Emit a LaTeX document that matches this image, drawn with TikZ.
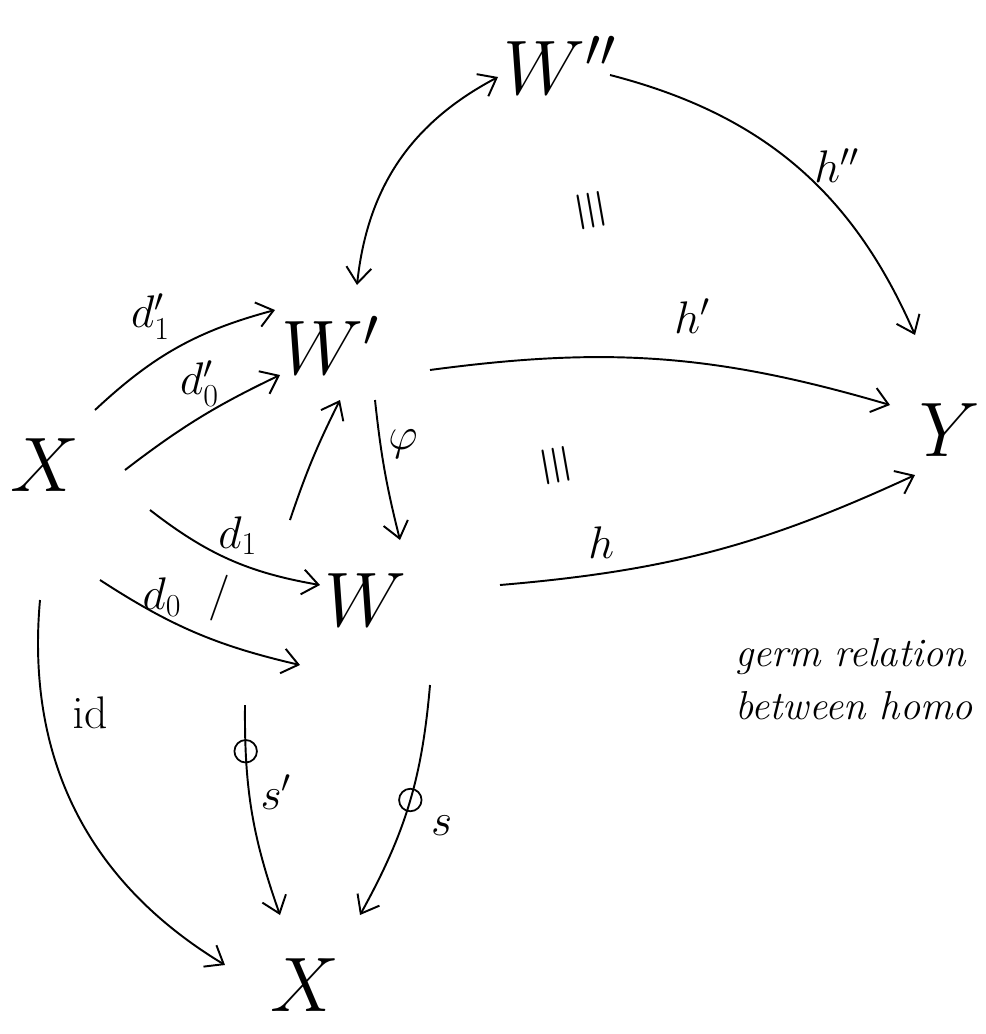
\RequirePackage{fix-cm}
\documentclass[tikz,border=0pt]{standalone}
\usepackage{amsmath}
\usepackage{tikz}
\usetikzlibrary{calc,arrows.meta}
\tikzset{
    obj/.style={font=\fontsize{44}{48}\selectfont, inner sep=2pt},
    mapto/.style={-{Straight Barb[length=3.2mm, width=5mm]}, line width=1.1pt},
    mapboth/.style={{Straight Barb[length=3.2mm, width=5mm]}-{Straight Barb[length=3.2mm, width=5mm]}, line width=1.1pt},
    lbl/.style={font=\fontsize{26}{30}\selectfont, inner sep=2pt},
    circ/.style={draw, circle, line width=1pt, inner sep=0pt, minimum size=4.5mm},
    equivsign/.style={font=\fontsize{30}{32}\selectfont, rotate=100},
    note/.style={font=\fontsize{23}{30}\selectfont\itshape, align=left, inner sep=0pt},
}

\begin{document}
\begin{tikzpicture}[x=0.02cm,y=0.02cm]
\useasboundingbox (0,0) rectangle (986,-1034);

% ---------------- OBJECTS ----------------
\node[obj] (X)   at (45,-465)  {$X$};
\node[obj] (Wp)  at (330,-345) {$W'$};
\node[obj] (Wpp) at (560,-65)  {$W''$};
\node[obj] (Y)   at (950,-430) {$Y$};
\node[obj] (W)   at (365,-600) {$W$};
\node[obj] (Xb)  at (305,-985) {$X$};

% ---------------- X -> W', X -> W ----------------
\draw[mapto] ($(X)+(50,55)$) to[bend left=14]
  node[lbl, midway, above left=2pt] {$d'_1$} ($(Wp)+(-55,35)$);
\draw[mapto] ($(X)+(80,-5)$) to[bend left=6]
  node[lbl, midway, above=4pt] {$d'_0$} ($(Wp)+(-50,-30)$);
\draw[mapto] ($(X)+(105,-45)$) to[bend right=14]
  node[lbl, pos=0.55, above=2pt] {$d_1$} ($(W)+(-45,15)$);
\draw[mapto] ($(X)+(55,-115)$) to[bend right=10]
  node[lbl, pos=0.45, above=2pt] {$d_0\;\ /$} ($(W)+(-65,-65)$);

% ---------------- W' <-> W'' , maps to Y ----------------
\draw[mapboth] ($(Wp)+(27,60)$) to[bend left=28] ($(Wpp)+(-62,-12)$);
\draw[mapto] ($(Wpp)+(50,-10)$) to[bend left=26]
  node[lbl, midway, right=8pt] {$h''$} ($(Y)+(-35,95)$);
\draw[mapto] ($(Wp)+(100,-25)$) to[bend left=12]
  node[lbl, pos=0.57, above=14pt] {$h'$} ($(Y)+(-60,25)$);
\draw[mapto] ($(W)+(135,15)$) to[bend right=10]
  node[lbl, pos=0.22, above=6pt] {$h$} ($(Y)+(-35,-45)$);

\node[equivsign] (eqTop) at (592,-210) {$\equiv$};
\node[equivsign] (eqMid) at (557,-465) {$\equiv$};

% ---------------- W' / W ----------------
\draw[mapto] ($(W)+(-75,80)$) to[bend left=4] ($(Wp)+(10,-55)$);
\draw[mapto] ($(Wp)+(45,-55)$) to[bend right=4]
  node[lbl, pos=0.3, right=2pt] {$\varphi$} ($(W)+(35,60)$);

% ---------------- down to X ----------------
\draw[mapto] ($(X)+(-5,-135)$) to[bend right=32]
  node[lbl, pos=0.25, right=14pt] {$\mathrm{id}$} ($(Xb)+(-80,20)$);
\draw[mapto] ($(W)+(-120,-105)$) to[bend right=10]
  node[circ, pos=0.2] (cS1) {}
  node[lbl, pos=0.4, right=4pt] {$s'$} ($(Xb)+(-25,70)$);
\draw[mapto] ($(W)+(65,-85)$) to[bend left=12]
  node[circ, pos=0.48] (cS) {}
  node[lbl, pos=0.6, right=14pt] {$s$} ($(Xb)+(55,70)$);

% note
\node[note, anchor=north west] (germ) at (735,-638)
     {germ relation\\ between homo};

\end{tikzpicture}
\end{document}
